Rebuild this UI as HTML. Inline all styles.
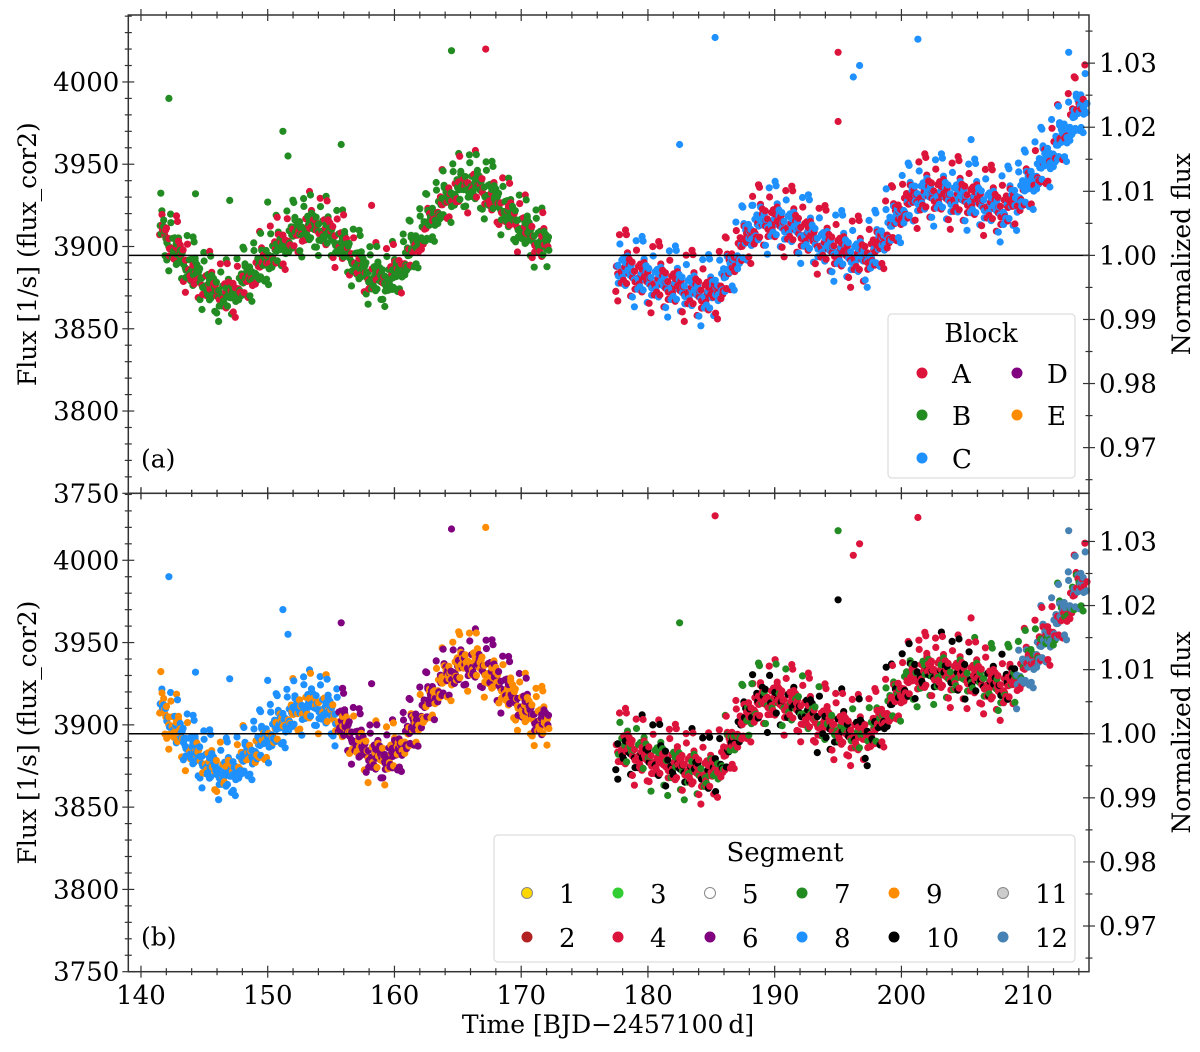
<!DOCTYPE html>
<html><head><meta charset="utf-8">
<style>
html,body{margin:0;padding:0;background:#fff;}
svg text{font-family:"DejaVu Serif","Liberation Serif",serif;fill:#000;}
</style></head>
<body>
<svg id="chart" width="1200" height="1047" viewBox="0 0 1200 1047" xmlns="http://www.w3.org/2000/svg"></svg>
<script>
// ---------- data ----------
const trendDays1 = [141.5,142,143,144,145,146,147,148,149,150,151,152,153,154,155,156,157,158,159,160,161,162,163,164,165,166,167,168,169,170,171,172];
const trendFlux1 = [3915,3905,3895,3885,3878,3872,3870,3878,3885,3893,3900,3907,3912,3912,3907,3900,3890,3882,3880,3882,3893,3905,3918,3928,3935,3938,3935,3928,3920,3912,3905,3900];
const trendDays2 = [177.5,178,179,180,181,182,183,184,185,186,187,188,189,190,191,192,193,194,195,196,197,198,199,200,201,202,203,204,205,206,207,208,209,210,211,212,213,214,214.5];
const trendFlux2 = [3887,3886,3883,3880,3878,3876,3874,3872,3870,3880,3895,3908,3915,3915,3913,3910,3905,3900,3898,3895,3893,3898,3910,3922,3930,3932,3932,3930,3930,3928,3925,3922,3928,3937,3948,3958,3970,3984,3990];
// fixed residual offsets (flux units) sampled in scrambled order
const residuals = [-9,4,11,-3,7,-14,1,-6,9,-1,15,-8,5,-16,3,8,-4,0,12,-11,6,-2,-7,13,2,-18,10,-5,17,-12,0,4,-9,8,-3,14,-15,6,-1,19,-7];
// outliers
const outDays  = [142.2,151.2,151.6,155.8,164.5,167.2,185.3,182.5,195.0,195.0,196.2,196.7,201.3,213.2,205.5,198.8,188.2,147.0,150.0,144.3,158.2];
const outFlux  = [3990,3970,3955,3962,4019,4020,4027,3962,4018,3976,4003,4010,4026,4018,3965,3935,3925,3928,3927,3932,3925];
const outBlock = ["B","B","B","B","B","A","C","C","A","A","C","C","C","C","C","C","C","B","B","B","A"];
const outSeg   = [8,8,8,6,6,9,4,7,7,10,4,4,4,12,4,10,7,8,8,8,6];
// time ranges with color patterns
const rangeStart = [141.5,143.0,155.5,163.0,177.5,209.0];
const rangeEnd   = [143.0,155.5,163.0,172.2,209.0,214.6];
const blockPat = [["A","B","B","A","B"],["B","B","A","B","B","B","A","B"],["B","A","B","B","B","A"],["B","A","B","B","A","B","B"],["C","A","C","C","A","C","A","C"],["C","C","A","C","C","C"]];
const segPat   = [[9,9,8,9],[8,8,9,8,8,8,9],[6,9,6,6,9,6],[6,9,9,6,9,6],[4,10,4,7,4,10,4,4,7,10],[12,12,4,12,7,12,4,12]];
const blockColors = {A:"#dc143c",B:"#228b22",C:"#1e90ff",D:"#800080",E:"#ff8c00"};
const segColors = {1:"#ffd700",2:"#b22222",3:"#32cd32",4:"#dc143c",5:"#ffffff",6:"#800080",7:"#228b22",8:"#1e90ff",9:"#ff8c00",10:"#000000",11:"#cccccc",12:"#4682b4"};
const xTicks = [140,150,160,170,180,190,200,210];
const yTicks = [3750,3800,3850,3900,3950,4000];
const rTicks = [0.97,0.98,0.99,1.00,1.01,1.02,1.03];
const normRef = 3894.6;

// ---------- geometry ----------
const NS="http://www.w3.org/2000/svg";
const svg=document.getElementById('chart');
const X0=128.3, X1=1089, D0=139.0, D1=214.8;
const xs=d=>X0+(d-D0)*(X1-X0)/(D1-D0);
const panels=[{top:15,bot:493.3,key:"a"},{top:493.3,bot:971.7,key:"b"}];
const F0=3750, F1=4040.7;
function ysFor(p){return f=>p.bot-(f-F0)*(p.bot-p.top)/(F1-F0);}
function el(tag,attrs,parent){const e=document.createElementNS(NS,tag);for(const k in attrs)e.setAttribute(k,attrs[k]);(parent||svg).appendChild(e);return e;}
function interp(days,flux,d){for(let i=0;i<days.length-1;i++){if(d>=days[i]&&d<=days[i+1]){const t=(d-days[i])/(days[i+1]-days[i]);return flux[i]+t*(flux[i+1]-flux[i]);}}return flux[flux.length-1];}

const samples=[];
let k=0;
const R=residuals.length;
for(let r=0;r<rangeStart.length;r++){
  for(let d=rangeStart[r];d<rangeEnd[r];d+=0.032){
    const tr = d<175?interp(trendDays1,trendFlux1,d):interp(trendDays2,trendFlux2,d);
    const res=(residuals[(k*13)%R]*0.7+residuals[(k*5+3)%R]*0.5)*(d>175?1.15:1.0);
    const ci=k+Math.floor(k/3);
    samples.push({d:d+residuals[(k*11+7)%R]*0.004,f:tr+res,b:blockPat[r][ci%blockPat[r].length],s:segPat[r][ci%segPat[r].length]});
    k++;
  }
}
for(let i=0;i<outDays.length;i++)samples.push({d:outDays[i],f:outFlux[i],b:outBlock[i],s:outSeg[i]});

panels.forEach((p,pi)=>{
  const ys=ysFor(p);
  const g=el('g',{});
  
  
  const pts=el('g',{},g);
  
  
  samples.forEach(s=>{
    const c=el('circle',{cx:xs(s.d).toFixed(1),cy:ys(s.f).toFixed(1),r:3.6,fill:pi===0?blockColors[s.b]:segColors[s.s]},pts);
    
    
  });
  const ref=el('line',{x1:X0,x2:X1,y1:ys(normRef),y2:ys(normRef),stroke:'#000','stroke-width':1.5},g);
  
  
  const fr=el('rect',{x:X0,y:p.top,width:X1-X0,height:p.bot-p.top,fill:'none',stroke:'#333','stroke-width':1.5},g);
  
  
  for(let d=140;d<=214;d+=2){
    const maj=(d%10===0), L=maj?6:3.5, xx=xs(d);
    el('line',{x1:xx,x2:xx,y1:p.bot-L,y2:p.bot+L,stroke:'#333','stroke-width':1.2},g);
    el('line',{x1:xx,x2:xx,y1:p.top-L,y2:p.top+L,stroke:'#333','stroke-width':1.2},g);
  }
  for(let f=3750;f<=4040;f+=10){
    const maj=(f%50===0), L=maj?6:3.5, yy=ys(f);
    el('line',{x1:X0-L,x2:X0+L,y1:yy,y2:yy,stroke:'#333','stroke-width':1.2},g);
  }
  yTicks.forEach(f=>{
    const t=el('text',{x:X0-9,y:ys(f)+9,'font-size':26,'text-anchor':'end'},g);t.textContent=f;
    
    
  });
  for(let v=0.965;v<=1.0351;v+=0.005){
    const f=normRef*v; if(f>F1) continue;
    const maj=Math.abs(Math.round(v*100)-v*100)<1e-6, L=maj?6:3.5, yy=ys(f);
    el('line',{x1:X1-L,x2:X1+L,y1:yy,y2:yy,stroke:'#333','stroke-width':1.2},g);
  }
  rTicks.forEach(v=>{
    const t=el('text',{x:X1+10,y:ys(normRef*v)+9,'font-size':26},g);t.textContent=v.toFixed(2);
    
    
  });
  const yl=el('text',{x:0,y:0,'font-size':25,'text-anchor':'middle',transform:`translate(36,${(p.top+p.bot)/2}) rotate(-90)`},g);
  yl.textContent='Flux [1/s] (flux_cor2)';
  
  
  const rl=el('text',{x:0,y:0,'font-size':25,'text-anchor':'middle',transform:`translate(1190,${(p.top+p.bot)/2}) rotate(-90)`},g);
  rl.textContent='Normalized flux';
  
  
  const pl=el('text',{x:141,y:p.bot-26,'font-size':25},g);pl.textContent='('+p.key+')';
  
  
});
xTicks.forEach(d=>{
  const t=el('text',{x:xs(d),y:1004,'font-size':26,'text-anchor':'middle'});t.textContent=d;
  
  
});
const xl=el('text',{x:608,y:1033,'font-size':25,'text-anchor':'middle'});xl.textContent='Time [BJD\u22122457100\u2009d]';



function legendBox(x,y,w,h,name){const r=el('rect',{x:x,y:y,width:w,height:h,rx:4,fill:'#fff','fill-opacity':0.85,stroke:'#ddd','stroke-width':1.2});}
legendBox(888,314,187,164,'block-legend');
const bt=el('text',{x:981,y:342,'font-size':26,'text-anchor':'middle'});bt.textContent='Block';


const blockEntries=[["A",922,373],["B",922,415],["C",922,458],["D",1017,373],["E",1017,415]];
blockEntries.forEach(e=>{
  const c=el('circle',{cx:e[1],cy:e[2],r:5.5,fill:blockColors[e[0]]});
  
  
  const t=el('text',{x:e[1]+30,y:e[2]+10,'font-size':26});t.textContent=e[0];
  
  
});
legendBox(494,835,581,127,'segment-legend');
const st=el('text',{x:785,y:861,'font-size':26,'text-anchor':'middle'});st.textContent='Segment';


const colX=[527,618,710,802,894,1003];
for(let i=1;i<=12;i++){
  const col=Math.floor((i-1)/2), row=(i-1)%2, cx=colX[col], cy=row?937:893;
  const c=el('circle',{cx:cx,cy:cy,r:5.5,fill:segColors[i],stroke:(i===1||i===5||i===11)?'#888':'none','stroke-width':1});
  
  
  const t=el('text',{x:cx+32,y:cy+10,'font-size':26});t.textContent=i;
  
  
}
</script>
</body></html>
